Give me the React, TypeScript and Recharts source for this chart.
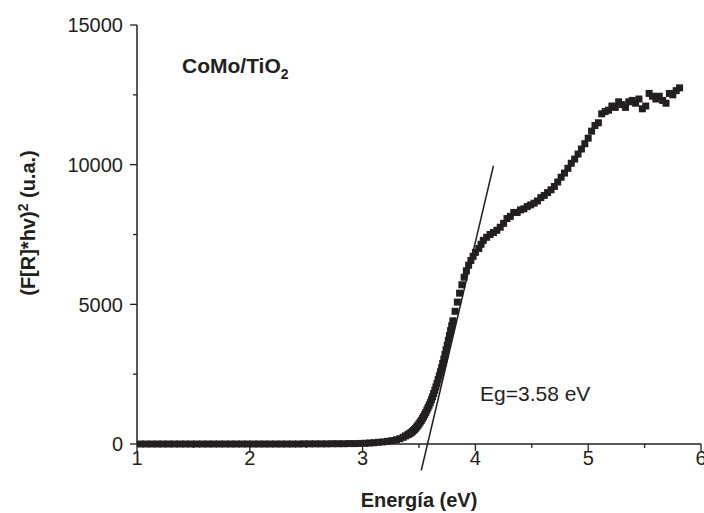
import { Label, ReferenceLine, Scatter, ScatterChart, XAxis, YAxis } from "recharts";

// photon energy (eV) and (F[R]*hv)^2
const energy = [
  1.03, 1.08, 1.13, 1.18, 1.23, 1.28, 1.33, 1.38, 1.43, 1.48, 1.53, 1.58, 1.63, 1.68, 1.73, 1.78, 1.83, 1.88, 1.93, 1.98,
  2.03, 2.08, 2.13, 2.18, 2.23, 2.28, 2.33, 2.38, 2.43, 2.48, 2.53, 2.58, 2.63, 2.68, 2.73, 2.78, 2.83, 2.88, 2.93, 2.98,
  3.02, 3.06, 3.1, 3.14, 3.18, 3.22, 3.26, 3.3, 3.33, 3.36, 3.38,
  3.4, 3.41, 3.42, 3.43, 3.44, 3.45, 3.46, 3.47, 3.48, 3.49, 3.5, 3.51, 3.52, 3.53, 3.54, 3.55, 3.56, 3.57, 3.58, 3.59,
  3.6, 3.61, 3.62, 3.63, 3.64, 3.65, 3.66, 3.67, 3.68, 3.69, 3.7, 3.71, 3.72, 3.73, 3.74, 3.75, 3.76, 3.77, 3.78, 3.79,
  3.8, 3.82, 3.84, 3.86, 3.88, 3.9, 3.92, 3.94, 3.96, 3.98, 4.0,
  4.03, 4.05, 4.07, 4.1, 4.13, 4.16, 4.19, 4.22, 4.25, 4.28, 4.31, 4.34, 4.37, 4.4, 4.43, 4.46, 4.49, 4.52, 4.55, 4.58,
  4.61, 4.64, 4.67, 4.7, 4.73, 4.76, 4.79, 4.82, 4.85, 4.88, 4.91, 4.94, 4.97, 5.0, 5.03, 5.06, 5.09, 5.12, 5.15, 5.18,
  5.21, 5.24, 5.27, 5.3, 5.33, 5.36, 5.39, 5.42, 5.45, 5.48, 5.51, 5.54, 5.57, 5.6, 5.63, 5.66, 5.69, 5.72, 5.75, 5.78, 5.81,
];

const kubelka = [
  0, 0, 0, 0, 0, 0, 0, 0, 0, 0, 0, 0, 0, 0, 0, 0, 0, 0, 0, 0,
  0, 0, 0, 0, 0, 0, 0, 0, 0, 5, 5, 5, 5, 5, 10, 10, 10, 15, 15, 20,
  25, 35, 45, 60, 75, 95, 120, 150, 190, 240, 290,
  330, 355, 380, 410, 440, 480, 520, 565, 610, 665, 720, 780, 840, 910, 980, 1055, 1130, 1215, 1300, 1390,
  1480, 1585, 1690, 1805, 1920, 2045, 2170, 2305, 2440, 2585, 2730, 2885, 3040, 3205, 3370, 3540, 3710, 3885, 4060, 4235,
  4410, 4750, 5080, 5400, 5700, 5970, 6200, 6400, 6570, 6720, 6860,
  7000, 7150, 7290, 7400, 7500, 7570, 7650, 7760, 7900, 8070, 8150, 8290, 8290, 8380, 8420, 8500, 8560, 8620, 8700, 8820,
  8900, 9000, 9100, 9220, 9380, 9550, 9700, 9870, 10050, 10200, 10380, 10560, 10750, 10950, 11200, 11400, 11500, 11820, 11900, 11950,
  12100, 12050, 12250, 12150, 12050, 12250, 12300, 12200, 12350, 12000, 12100, 12550, 12450, 12350, 12450, 12300, 12200, 12550, 12500, 12650, 12750,
];

// tangent used for the band gap (crosses zero at 3.58 eV)
const tangentX = [3.52, 4.16];
const tangentY = [-950, 9960];

const xTicks = [1, 1.5, 2, 2.5, 3, 3.5, 4, 4.5, 5, 5.5, 6];
const yTicks = [0, 2500, 5000, 7500, 10000, 12500, 15000];

const ink = "#231f20";
const font = "'Liberation Sans', Arial, sans-serif";

const points = energy.map((x, i) => ({ x, y: kubelka[i] }));

function XTick({ x, y, payload }: any) {
  const major = Number.isInteger(payload.value);
  return (
    <g>
      <line x1={x} y1={y} x2={x} y2={y + (major ? 7 : 4)} stroke={ink} strokeWidth={1.3} />
      {major && (
        <text x={x} y={y + 21} textAnchor="middle" fontSize={20} fontFamily={font} fill={ink}>
          {payload.value}
        </text>
      )}
    </g>
  );
}

function YTick({ x, y, payload }: any) {
  const major = payload.value % 5000 === 0;
  return (
    <g>
      <line x1={x - (major ? 7 : 4)} y1={y} x2={x} y2={y} stroke={ink} strokeWidth={1.3} />
      {major && (
        <text x={x - 14} y={y} dy="0.36em" textAnchor="end" fontSize={20} fontFamily={font} fill={ink}>
          {payload.value}
        </text>
      )}
    </g>
  );
}

function Square({ cx, cy }: any) {
  return <rect x={cx - 3.5} y={cy - 3.5} width={7} height={7} fill={ink} />;
}

export default function App() {
  return (
    <div style={{ position: "relative", width: 704, height: 513 }}>
      <style>{"body{margin:0}"}</style>
      <ScatterChart width={704} height={513} margin={{ top: 25, right: 3, bottom: 19, left: 0 }}>
        <XAxis
          type="number"
          dataKey="x"
          domain={[1, 6]}
          ticks={xTicks}
          interval={0}
          height={50}
          tickLine={false}
          tickSize={0}
          tickMargin={0}
          tick={<XTick />}
          axisLine={{ stroke: ink, strokeWidth: 1.5 }}
        >
          <Label
            content={() => (
              <text x={419} y={507} textAnchor="middle" fontSize={20} fontWeight="bold" fontFamily={font} fill={ink}>
                Energía (eV)
              </text>
            )}
          />
        </XAxis>
        <YAxis
          type="number"
          dataKey="y"
          domain={[0, 15000]}
          ticks={yTicks}
          interval={0}
          width={137}
          tickLine={false}
          tickSize={0}
          tickMargin={0}
          tick={<YTick />}
          axisLine={{ stroke: ink, strokeWidth: 1.5 }}
        >
          <Label
            content={() => (
              <text
                transform="translate(35,223) rotate(-90)"
                textAnchor="middle"
                fontSize={20}
                fontWeight="bold"
                fontFamily={font}
                fill={ink}
              >
                (F[R]*hv)
                <tspan fontSize={14} dy={-7}>2</tspan>
                <tspan dy={7}> (u.a.)</tspan>
              </text>
            )}
          />
        </YAxis>
        <ReferenceLine
          segment={[
            { x: tangentX[0], y: tangentY[0] },
            { x: tangentX[1], y: tangentY[1] },
          ]}
          stroke={ink}
          strokeWidth={1.5}
          ifOverflow="visible"
        />
        <Scatter data={points} shape={<Square />} isAnimationActive={false} />
      </ScatterChart>
      <svg width={704} height={513} style={{ position: "absolute", left: 0, top: 0, pointerEvents: "none" }}>
        <text x={182} y={73} fontSize={21} fontWeight="bold" fontFamily={font} fill={ink}>
          CoMo/TiO
          <tspan fontSize={14} dy={6}>2</tspan>
        </text>
        <text x={480} y={401} fontSize={21} fontFamily={font} fill={ink}>
          Eg=3.58 eV
        </text>
      </svg>
    </div>
  );
}
